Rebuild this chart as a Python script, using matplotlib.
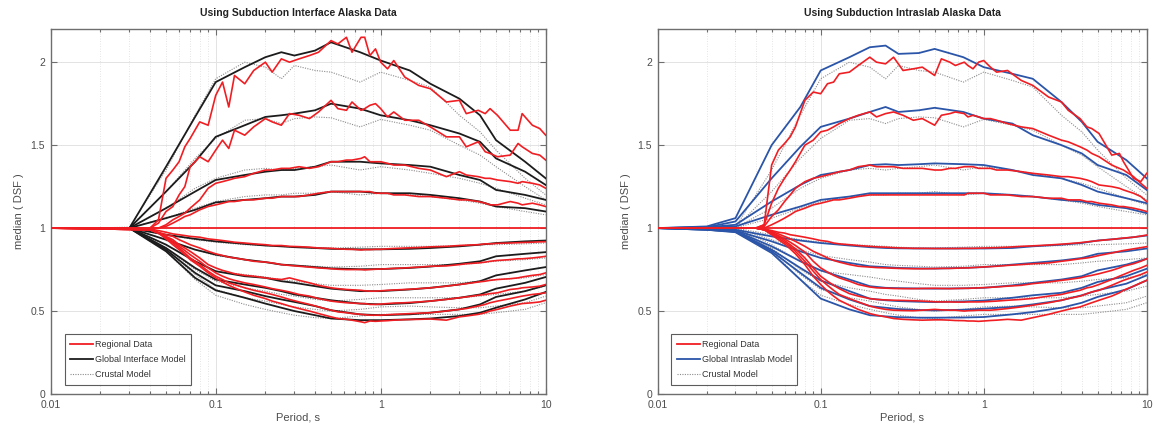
import matplotlib.pyplot as plt
from matplotlib.ticker import LogLocator, FixedLocator, NullFormatter

# model periods (s)
T_MOD = [0.01, 0.02, 0.03, 0.05, 0.075, 0.1, 0.15, 0.2, 0.25, 0.3, 0.4, 0.5,
         0.75, 1.0, 1.5, 2.0, 3.0, 4.0, 5.0, 7.5, 10.0]

# regional data periods (s)
T_REG = [0.01, 0.04, 0.045, 0.05, 0.055, 0.06, 0.065, 0.07, 0.08, 0.09,
         0.1, 0.11, 0.12, 0.13, 0.15, 0.17, 0.2, 0.22, 0.25, 0.28,
         0.32, 0.37, 0.42, 0.5, 0.55, 0.62, 0.67, 0.76, 0.8, 0.86,
         0.93, 1.0, 1.1, 1.2, 1.4, 1.7, 2.0, 2.5, 3.0, 3.3,
         3.9, 4.3, 4.6, 5.1, 6.1, 6.8, 7.2, 8.3, 9.2, 10.0]

T_FLAT = [0.01, 10.0]
FLAT = [1.0, 1.0]

# crustal model (same in both panels)
crustal = [
    [1, 1.002, 1.005, 1.35, 1.68, 1.90, 2.00, 1.97, 1.90, 1.98, 1.95, 1.94, 1.88, 1.94, 1.89, 1.85, 1.68, 1.58, 1.47, 1.30, 1.20],
    [1, 1.002, 1.004, 1.22, 1.42, 1.54, 1.65, 1.66, 1.63, 1.66, 1.67, 1.665, 1.61, 1.655, 1.62, 1.59, 1.50, 1.44, 1.37, 1.25, 1.17],
    [1, 1.001, 1.003, 1.12, 1.24, 1.30, 1.35, 1.36, 1.35, 1.36, 1.37, 1.38, 1.35, 1.37, 1.35, 1.33, 1.30, 1.27, 1.24, 1.18, 1.14],
    [1, 1.001, 1.002, 1.06, 1.12, 1.16, 1.19, 1.20, 1.20, 1.21, 1.21, 1.22, 1.20, 1.21, 1.20, 1.19, 1.17, 1.15, 1.13, 1.10, 1.08],
    [1, 1.0, 1.0, 0.96, 0.93, 0.915, 0.90, 0.895, 0.89, 0.885, 0.88, 0.88, 0.885, 0.89, 0.89, 0.89, 0.895, 0.90, 0.90, 0.905, 0.91],
    [1, 1.0, 1.0, 0.93, 0.87, 0.835, 0.81, 0.795, 0.78, 0.775, 0.77, 0.765, 0.77, 0.78, 0.78, 0.78, 0.78, 0.79, 0.80, 0.81, 0.82],
    [1, 1.0, 1.0, 0.90, 0.80, 0.74, 0.72, 0.705, 0.69, 0.68, 0.665, 0.655, 0.655, 0.66, 0.67, 0.67, 0.67, 0.68, 0.69, 0.70, 0.72],
    [1, 1.0, 1.0, 0.88, 0.75, 0.68, 0.64, 0.62, 0.60, 0.59, 0.57, 0.56, 0.57, 0.58, 0.58, 0.58, 0.58, 0.59, 0.60, 0.62, 0.65],
    [1, 1.0, 1.0, 0.87, 0.72, 0.63, 0.58, 0.56, 0.54, 0.525, 0.51, 0.50, 0.51, 0.525, 0.53, 0.525, 0.52, 0.52, 0.53, 0.55, 0.59],
    [1, 1.0, 1.0, 0.86, 0.69, 0.595, 0.54, 0.51, 0.49, 0.475, 0.46, 0.455, 0.47, 0.48, 0.48, 0.48, 0.48, 0.48, 0.49, 0.51, 0.55],
]

interface_model = [
    [1, 1, 1, 1.37, 1.67, 1.88, 1.97, 2.03, 2.06, 2.04, 2.07, 2.12, 2.06, 2.01, 1.95, 1.87, 1.78, 1.68, 1.53, 1.40, 1.30],
    [1, 1, 1, 1.22, 1.40, 1.55, 1.62, 1.67, 1.68, 1.69, 1.71, 1.75, 1.72, 1.68, 1.65, 1.62, 1.57, 1.52, 1.42, 1.34, 1.26],
    [1, 1, 1, 1.12, 1.22, 1.29, 1.32, 1.34, 1.35, 1.35, 1.37, 1.40, 1.40, 1.39, 1.38, 1.37, 1.32, 1.29, 1.23, 1.20, 1.17],
    [1, 1, 1, 1.06, 1.11, 1.155, 1.17, 1.18, 1.19, 1.19, 1.20, 1.22, 1.22, 1.21, 1.21, 1.20, 1.18, 1.16, 1.13, 1.12, 1.10],
    [1, 1, 1, 0.96, 0.935, 0.92, 0.905, 0.895, 0.89, 0.885, 0.88, 0.875, 0.872, 0.872, 0.875, 0.88, 0.89, 0.90, 0.91, 0.92, 0.925],
    [1, 1, 1, 0.93, 0.87, 0.84, 0.81, 0.795, 0.78, 0.775, 0.765, 0.757, 0.752, 0.753, 0.76, 0.768, 0.785, 0.80, 0.83, 0.845, 0.855],
    [1, 1, 1, 0.90, 0.80, 0.74, 0.71, 0.70, 0.68, 0.67, 0.65, 0.635, 0.62, 0.62, 0.63, 0.64, 0.66, 0.68, 0.715, 0.745, 0.765],
    [1, 1, 1, 0.88, 0.76, 0.69, 0.66, 0.64, 0.62, 0.60, 0.58, 0.565, 0.545, 0.54, 0.548, 0.56, 0.58, 0.60, 0.635, 0.67, 0.705],
    [1, 1, 1, 0.87, 0.73, 0.655, 0.62, 0.59, 0.57, 0.555, 0.53, 0.505, 0.48, 0.475, 0.48, 0.49, 0.51, 0.54, 0.585, 0.62, 0.655],
    [1, 1, 1, 0.86, 0.70, 0.625, 0.58, 0.545, 0.52, 0.50, 0.475, 0.455, 0.445, 0.445, 0.45, 0.455, 0.47, 0.49, 0.52, 0.57, 0.615],
]

intraslab_model = [
    [1.0, 1.01, 1.06, 1.50, 1.73, 1.95, 2.03, 2.09, 2.10, 2.05, 2.055, 2.08, 2.03, 1.97, 1.93, 1.90, 1.76, 1.64, 1.52, 1.41, 1.30],
    [1.0, 1.005, 1.04, 1.30, 1.49, 1.61, 1.66, 1.70, 1.73, 1.70, 1.71, 1.725, 1.70, 1.66, 1.63, 1.56, 1.50, 1.45, 1.38, 1.32, 1.23],
    [1.0, 1.005, 1.02, 1.16, 1.26, 1.32, 1.35, 1.38, 1.385, 1.38, 1.385, 1.39, 1.385, 1.38, 1.35, 1.32, 1.30, 1.26, 1.22, 1.18, 1.15],
    [1.0, 1.003, 1.01, 1.08, 1.13, 1.17, 1.19, 1.21, 1.21, 1.21, 1.21, 1.21, 1.21, 1.21, 1.20, 1.19, 1.17, 1.16, 1.14, 1.12, 1.09],
    [1.0, 0.998, 0.99, 0.95, 0.925, 0.91, 0.895, 0.885, 0.88, 0.878, 0.877, 0.877, 0.877, 0.877, 0.88, 0.89, 0.90, 0.91, 0.925, 0.94, 0.955],
    [1.0, 0.995, 0.985, 0.92, 0.86, 0.82, 0.79, 0.77, 0.765, 0.76, 0.757, 0.756, 0.76, 0.765, 0.78, 0.79, 0.805, 0.82, 0.845, 0.86, 0.877],
    [1.0, 0.993, 0.982, 0.89, 0.80, 0.745, 0.69, 0.65, 0.64, 0.638, 0.636, 0.635, 0.637, 0.64, 0.655, 0.67, 0.69, 0.71, 0.745, 0.78, 0.815],
    [1.0, 0.99, 0.98, 0.87, 0.76, 0.685, 0.62, 0.575, 0.565, 0.56, 0.556, 0.554, 0.558, 0.563, 0.58, 0.595, 0.61, 0.64, 0.675, 0.71, 0.755],
    [1.0, 0.99, 0.978, 0.86, 0.73, 0.64, 0.57, 0.53, 0.52, 0.512, 0.506, 0.504, 0.508, 0.514, 0.525, 0.54, 0.565, 0.595, 0.625, 0.665, 0.715],
    [1.0, 0.99, 0.975, 0.85, 0.69, 0.575, 0.51, 0.475, 0.468, 0.463, 0.46, 0.46, 0.461, 0.464, 0.48, 0.494, 0.52, 0.55, 0.585, 0.63, 0.685],
]

regional_interface = [
    [1, 1.0, 1.05, 1.30, 1.35, 1.40, 1.49, 1.54, 1.64, 1.62, 1.80, 1.88, 1.73, 1.92, 1.87, 1.95, 2.00, 1.94, 2.02, 2.00,
     2.02, 2.04, 2.06, 2.13, 2.11, 2.15, 2.06, 2.15, 2.15, 2.04, 2.08, 2.00, 1.96, 2.01, 1.91, 1.86, 1.84, 1.76, 1.77, 1.69,
     1.71, 1.69, 1.72, 1.68, 1.59, 1.59, 1.69, 1.62, 1.60, 1.56],
    [1, 1.0, 1.03, 1.10, 1.13, 1.20, 1.25, 1.37, 1.43, 1.40, 1.47, 1.53, 1.48, 1.59, 1.56, 1.61, 1.66, 1.64, 1.62, 1.69,
     1.68, 1.66, 1.70, 1.77, 1.72, 1.71, 1.76, 1.71, 1.72, 1.74, 1.75, 1.72, 1.67, 1.70, 1.65, 1.65, 1.61, 1.55, 1.55, 1.49,
     1.52, 1.46, 1.45, 1.43, 1.44, 1.51, 1.49, 1.45, 1.44, 1.41],
    [1, 1.0, 1.0, 1.02, 1.05, 1.07, 1.09, 1.12, 1.17, 1.24, 1.27, 1.28, 1.29, 1.30, 1.31, 1.33, 1.35, 1.35, 1.36, 1.36,
     1.37, 1.36, 1.37, 1.40, 1.40, 1.41, 1.41, 1.42, 1.43, 1.40, 1.40, 1.40, 1.39, 1.38, 1.38, 1.36, 1.35, 1.31, 1.34, 1.32,
     1.31, 1.30, 1.30, 1.29, 1.28, 1.27, 1.28, 1.27, 1.26, 1.24],
    [1, 1.0, 1.0, 1.01, 1.03, 1.05, 1.07, 1.08, 1.11, 1.13, 1.14, 1.15, 1.16, 1.16, 1.17, 1.17, 1.18, 1.18, 1.19, 1.19,
     1.19, 1.20, 1.21, 1.22, 1.22, 1.22, 1.22, 1.22, 1.22, 1.22, 1.21, 1.21, 1.21, 1.20, 1.20, 1.19, 1.19, 1.18, 1.17, 1.17,
     1.16, 1.15, 1.14, 1.14, 1.16, 1.15, 1.14, 1.15, 1.14, 1.13],
    [1, 0.995, 0.985, 0.975, 0.965, 0.96, 0.955, 0.95, 0.945, 0.935, 0.93, 0.925, 0.92, 0.915, 0.91, 0.905, 0.90, 0.895, 0.895, 0.89,
     0.888, 0.885, 0.88, 0.878, 0.875, 0.872, 0.872, 0.868, 0.87, 0.87, 0.872, 0.872, 0.875, 0.877, 0.88, 0.883, 0.887, 0.89, 0.895, 0.897,
     0.90, 0.905, 0.905, 0.908, 0.91, 0.912, 0.913, 0.915, 0.917, 0.918],
    [1, 0.99, 0.975, 0.96, 0.95, 0.93, 0.915, 0.90, 0.88, 0.86, 0.845, 0.835, 0.825, 0.82, 0.81, 0.80, 0.795, 0.79, 0.78, 0.775,
     0.77, 0.765, 0.76, 0.755, 0.752, 0.75, 0.75, 0.75, 0.748, 0.75, 0.752, 0.753, 0.755, 0.757, 0.76, 0.765, 0.77, 0.772, 0.78, 0.785,
     0.79, 0.795, 0.80, 0.805, 0.81, 0.815, 0.815, 0.82, 0.825, 0.83],
    [1, 0.99, 0.97, 0.95, 0.93, 0.90, 0.88, 0.86, 0.82, 0.78, 0.76, 0.745, 0.735, 0.725, 0.715, 0.71, 0.70, 0.695, 0.69, 0.70,
     0.685, 0.67, 0.655, 0.64, 0.635, 0.63, 0.628, 0.625, 0.622, 0.62, 0.62, 0.622, 0.625, 0.627, 0.63, 0.635, 0.64, 0.65, 0.66, 0.665,
     0.675, 0.68, 0.685, 0.69, 0.695, 0.70, 0.705, 0.715, 0.72, 0.73],
    [1, 0.99, 0.97, 0.945, 0.92, 0.89, 0.865, 0.84, 0.80, 0.76, 0.73, 0.71, 0.695, 0.685, 0.67, 0.66, 0.645, 0.635, 0.625, 0.615,
     0.60, 0.59, 0.575, 0.56, 0.555, 0.55, 0.548, 0.545, 0.545, 0.54, 0.54, 0.542, 0.545, 0.548, 0.55, 0.555, 0.56, 0.57, 0.58, 0.585,
     0.595, 0.60, 0.605, 0.61, 0.63, 0.635, 0.64, 0.645, 0.65, 0.66],
    [1, 0.99, 0.97, 0.94, 0.91, 0.88, 0.85, 0.82, 0.78, 0.74, 0.71, 0.69, 0.67, 0.66, 0.64, 0.625, 0.61, 0.60, 0.585, 0.57,
     0.555, 0.54, 0.525, 0.505, 0.495, 0.49, 0.485, 0.48, 0.478, 0.475, 0.475, 0.475, 0.478, 0.48, 0.483, 0.487, 0.49, 0.50, 0.51, 0.515,
     0.53, 0.54, 0.55, 0.56, 0.575, 0.585, 0.59, 0.60, 0.605, 0.61],
    [1, 0.99, 0.97, 0.935, 0.90, 0.87, 0.84, 0.81, 0.77, 0.73, 0.70, 0.675, 0.655, 0.64, 0.615, 0.595, 0.575, 0.56, 0.545, 0.53,
     0.515, 0.50, 0.485, 0.465, 0.455, 0.45, 0.445, 0.435, 0.43, 0.44, 0.438, 0.44, 0.442, 0.445, 0.448, 0.45, 0.452, 0.445, 0.465, 0.47,
     0.48, 0.49, 0.50, 0.51, 0.53, 0.54, 0.545, 0.55, 0.555, 0.565],
]

regional_intraslab = [
    [1, 1.0, 1.02, 1.38, 1.47, 1.51, 1.55, 1.61, 1.77, 1.82, 1.81, 1.87, 1.88, 1.93, 1.94, 1.98, 2.03, 2.00, 1.99, 2.03,
     1.95, 1.96, 1.97, 1.92, 2.02, 2.00, 1.98, 2.00, 1.98, 1.96, 2.00, 2.01, 1.97, 1.94, 1.95, 1.89, 1.86, 1.79, 1.76, 1.71,
     1.66, 1.61, 1.60, 1.57, 1.44, 1.45, 1.40, 1.30, 1.28, 1.33],
    [1, 1.0, 1.02, 1.15, 1.24, 1.30, 1.35, 1.40, 1.50, 1.53, 1.58, 1.59, 1.61, 1.63, 1.66, 1.68, 1.70, 1.67, 1.69, 1.70,
     1.68, 1.65, 1.66, 1.62, 1.68, 1.69, 1.70, 1.69, 1.67, 1.68, 1.67, 1.66, 1.66, 1.65, 1.63, 1.61, 1.60, 1.56, 1.53, 1.52,
     1.49, 1.47, 1.45, 1.43, 1.38, 1.36, 1.35, 1.31, 1.27, 1.24],
    [1, 1.0, 1.01, 1.07, 1.11, 1.16, 1.20, 1.24, 1.28, 1.30, 1.31, 1.32, 1.33, 1.34, 1.35, 1.37, 1.38, 1.37, 1.37, 1.37,
     1.36, 1.36, 1.36, 1.35, 1.35, 1.36, 1.36, 1.37, 1.37, 1.37, 1.36, 1.36, 1.36, 1.35, 1.35, 1.34, 1.33, 1.32, 1.31, 1.31,
     1.30, 1.29, 1.28, 1.26, 1.25, 1.24, 1.23, 1.21, 1.19, 1.16],
    [1, 1.0, 1.0, 1.02, 1.04, 1.06, 1.08, 1.10, 1.12, 1.14, 1.15, 1.16, 1.17, 1.17, 1.18, 1.19, 1.20, 1.20, 1.20, 1.20,
     1.20, 1.20, 1.20, 1.20, 1.20, 1.20, 1.20, 1.20, 1.21, 1.21, 1.21, 1.21, 1.20, 1.20, 1.20, 1.19, 1.19, 1.18, 1.18, 1.17,
     1.17, 1.16, 1.16, 1.15, 1.14, 1.13, 1.13, 1.12, 1.11, 1.10],
    [1, 1.0, 0.995, 0.985, 0.975, 0.97, 0.96, 0.955, 0.945, 0.935, 0.925, 0.92, 0.91, 0.905, 0.90, 0.895, 0.89, 0.887, 0.885, 0.882,
     0.88, 0.878, 0.878, 0.877, 0.877, 0.877, 0.877, 0.878, 0.878, 0.878, 0.879, 0.88, 0.881, 0.882, 0.885, 0.89, 0.893, 0.898, 0.903, 0.906,
     0.912, 0.917, 0.92, 0.925, 0.932, 0.937, 0.94, 0.945, 0.952, 0.958],
    [1, 1.0, 0.99, 0.98, 0.965, 0.95, 0.935, 0.92, 0.89, 0.86, 0.84, 0.82, 0.805, 0.795, 0.78, 0.77, 0.765, 0.762, 0.76, 0.758,
     0.756, 0.755, 0.755, 0.756, 0.757, 0.757, 0.758, 0.76, 0.76, 0.762, 0.764, 0.766, 0.768, 0.77, 0.775, 0.78, 0.785, 0.79, 0.80, 0.805,
     0.815, 0.82, 0.825, 0.835, 0.85, 0.86, 0.865, 0.875, 0.882, 0.888],
    [1, 1.0, 0.99, 0.975, 0.955, 0.935, 0.915, 0.895, 0.855, 0.80, 0.76, 0.735, 0.715, 0.70, 0.68, 0.66, 0.645, 0.64, 0.638, 0.636,
     0.635, 0.635, 0.636, 0.637, 0.636, 0.635, 0.636, 0.637, 0.637, 0.638, 0.64, 0.641, 0.643, 0.645, 0.65, 0.655, 0.665, 0.675, 0.685, 0.69,
     0.70, 0.71, 0.715, 0.725, 0.745, 0.76, 0.77, 0.785, 0.80, 0.815],
    [1, 1.0, 0.99, 0.97, 0.95, 0.925, 0.90, 0.875, 0.82, 0.76, 0.71, 0.68, 0.655, 0.635, 0.605, 0.59, 0.575, 0.57, 0.567, 0.565,
     0.564, 0.562, 0.56, 0.556, 0.555, 0.555, 0.554, 0.554, 0.555, 0.555, 0.555, 0.556, 0.558, 0.56, 0.565, 0.57, 0.576, 0.59, 0.60, 0.61,
     0.625, 0.64, 0.645, 0.66, 0.69, 0.71, 0.72, 0.745, 0.76, 0.775],
    [1, 1.0, 0.99, 0.965, 0.94, 0.915, 0.89, 0.86, 0.80, 0.74, 0.69, 0.655, 0.625, 0.60, 0.575, 0.555, 0.53, 0.52, 0.51, 0.505,
     0.503, 0.502, 0.505, 0.51, 0.507, 0.505, 0.505, 0.50, 0.502, 0.503, 0.505, 0.505, 0.505, 0.508, 0.515, 0.525, 0.535, 0.55, 0.565, 0.575,
     0.59, 0.605, 0.615, 0.625, 0.655, 0.675, 0.685, 0.705, 0.72, 0.735],
    [1, 1.0, 0.99, 0.96, 0.93, 0.905, 0.875, 0.845, 0.78, 0.71, 0.66, 0.62, 0.59, 0.565, 0.535, 0.51, 0.485, 0.475, 0.465, 0.455,
     0.45, 0.447, 0.445, 0.447, 0.447, 0.445, 0.443, 0.442, 0.44, 0.44, 0.438, 0.44, 0.443, 0.445, 0.45, 0.445, 0.46, 0.48, 0.50, 0.51,
     0.525, 0.54, 0.55, 0.565, 0.59, 0.61, 0.625, 0.65, 0.67, 0.685],
]

RED = '#f01e23'
BLACK = '#1c1c1c'
BLUE = '#2b55a8'
GRAY = '#8c8c8c'
TXT = '#4d4d4d'
FRAME = '#6e6e6e'

plt.rcParams['font.family'] = ['Liberation Sans', 'DejaVu Sans']

fig = plt.figure(figsize=(11.53, 4.28), dpi=100)
W, H = 1153.0, 428.0
ax1 = fig.add_axes([50.7 / W, 34 / H, 495 / W, 365 / H])
ax2 = fig.add_axes([657.7 / W, 34 / H, 489 / W, 365 / H])


def draw_panel(ax, title, model, model_color, model_label, regional):
    for i, c in enumerate(crustal):
        ax.plot(T_MOD, c, color=GRAY, lw=0.8, ls=(0, (1, 1.2)),
                label='Crustal Model' if i == 0 else None, zorder=3)
    for i, m in enumerate(model):
        ax.plot(T_MOD, m, color=model_color, lw=1.3,
                label=model_label if i == 0 else None, zorder=4)
    ax.plot(T_FLAT, FLAT, color=RED, lw=1.3, zorder=5, label='Regional Data')
    for r in regional:
        ax.plot(T_REG, r, color=RED, lw=1.2, zorder=5)

    ax.set_xscale('log')
    ax.set_xlim(0.01, 10)
    ax.set_ylim(0, 2.2)
    ax.xaxis.set_major_locator(FixedLocator([0.01, 0.1, 1, 10]))
    ax.set_xticklabels(['0.01', '0.1', '1', '10'])
    ax.xaxis.set_minor_locator(LogLocator(base=10, subs=range(2, 10)))
    ax.xaxis.set_minor_formatter(NullFormatter())
    ax.set_yticks([0, 0.5, 1, 1.5, 2])
    ax.set_yticklabels(['0', '0.5', '1', '1.5', '2'])

    ax.grid(True, which='major', color='#e3e3e3', lw=0.7, zorder=0)
    ax.grid(True, which='minor', axis='x', color='#dcdcdc', lw=0.6,
            ls=(0, (1, 2)), zorder=0)
    ax.set_axisbelow(True)
    ax.tick_params(which='both', direction='in', top=True, right=True,
                   colors=FRAME, labelcolor=TXT, labelsize=7.5, width=0.8)
    ax.tick_params(which='major', length=4, pad=4)
    ax.tick_params(which='minor', length=2.5)
    for s in ax.spines.values():
        s.set_color(FRAME)
        s.set_linewidth(1.0)

    ax.set_title(title, fontsize=7.5, fontweight='bold', color='#222222', pad=9)
    ax.set_xlabel('Period, s', fontsize=8, color=TXT, labelpad=2)
    ax.set_ylabel('median ( DSF )', fontsize=8, color=TXT, labelpad=5)

    handles, labels = ax.get_legend_handles_labels()
    order = [labels.index('Regional Data'), labels.index(model_label),
             labels.index('Crustal Model')]
    leg = ax.legend([handles[k] for k in order], [labels[k] for k in order],
                    loc='lower left', bbox_to_anchor=(0.028, 0.025),
                    fontsize=6.5, frameon=True, fancybox=False,
                    handlelength=2.6, handletextpad=0.15, labelspacing=0.7,
                    borderpad=0.6, borderaxespad=0)
    leg.get_frame().set_edgecolor('#333333')
    leg.get_frame().set_linewidth(0.8)
    for t in leg.get_texts():
        t.set_color('#333333')
    leg.set_zorder(10)


draw_panel(ax1, 'Using Subduction Interface Alaska Data', interface_model,
           BLACK, 'Global Interface Model', regional_interface)
draw_panel(ax2, 'Using Subduction Intraslab Alaska Data', intraslab_model,
           BLUE, 'Global Intraslab Model', regional_intraslab)

fig.savefig('out.png', dpi=100)
